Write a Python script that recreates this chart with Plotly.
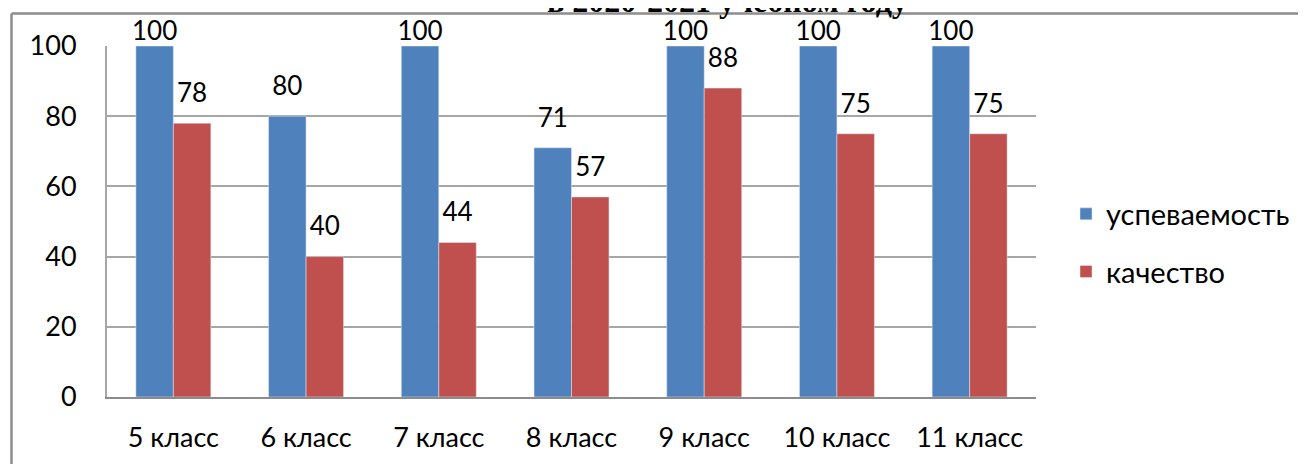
import plotly.graph_objects as go

classes = ["5 класс", "6 класс", "7 класс", "8 класс", "9 класс", "10 класс", "11 класс"]
uspevaemost = [100, 80, 100, 71, 100, 100, 100]
kachestvo = [78, 40, 44, 57, 88, 75, 75]
y_ticks = [0, 20, 40, 60, 80, 100]

font_main = "Lato, Open Sans, sans-serif"
colors = {"u": "#4F81BD", "k": "#C0504D"}

fig = go.Figure()
for key, name, vals in [("u", "успеваемость", uspevaemost), ("k", "качество", kachestvo)]:
    fig.add_trace(
        go.Bar(
            x=classes,
            y=vals,
            name=name,
            legendgroup=key,
            offsetgroup=key,
            alignmentgroup="all",
            marker=dict(color=colors[key]),
            hoverinfo="x+y",
        )
    )
    # value labels, raised above the bar like Excel; labels at the top of the axis stay low
    fig.add_trace(
        go.Scatter(
            x=classes,
            y=vals,
            mode="markers+text",
            text=[str(v) for v in vals],
            textposition="top center",
            textfont=dict(size=26, color="black"),
            marker=dict(size=[0 if v >= 100 else 22 for v in vals], opacity=0),
            offsetgroup=key,
            alignmentgroup="all",
            legendgroup=key,
            showlegend=False,
            cliponaxis=False,
            hoverinfo="skip",
        )
    )

# page offset of the plot div (body margin)
off = 8
plot_l, plot_r, plot_t, plot_b = 107 - off, 1036 - off, 46 - off, 397 - off
pw = plot_r - plot_l
ph = plot_b - plot_t

# outer frame (left and top edges visible)
fx = (11.5 - off - plot_l) / pw
fy = (plot_b - (13.5 - off)) / ph
fig.add_shape(type="line", xref="paper", yref="paper", x0=fx, x1=2, y0=fy, y1=fy,
              line=dict(color="#8c8c8c", width=2.5))
fig.add_shape(type="line", xref="paper", yref="paper", x0=fx, x1=fx, y0=fy, y1=-1,
              line=dict(color="#8c8c8c", width=2.5))

fig.add_annotation(
    text="<b>в 2020-2021 учебном году</b>",
    xref="paper", yref="paper",
    x=(727 - off - plot_l) / pw, y=(plot_b - (1 - off)) / ph,
    xanchor="center", yanchor="middle",
    showarrow=False,
    font=dict(family="Liberation Serif, Times New Roman, serif", size=32, color="black"),
)

fig.update_layout(
    width=1306,
    height=464,
    margin=dict(l=plot_l, r=1306 - plot_r, t=plot_t, b=464 - plot_b),
    paper_bgcolor="white",
    plot_bgcolor="white",
    barmode="group",
    bargap=0.435,
    bargroupgap=0,
    scattermode="group",
    scattergap=0.435,
    font=dict(family=font_main, size=26, color="black"),
    legend=dict(
        x=(1066 - off - plot_l) / pw,
        y=(plot_b - (243 - off)) / ph,
        xanchor="left",
        yanchor="middle",
        font=dict(size=29),
        tracegroupgap=17,
        itemwidth=30,
    ),
    xaxis=dict(
        showline=True,
        linecolor="#8c8c8c",
        linewidth=2,
        ticks="",
        tickfont=dict(size=27),
        ticklabelstandoff=16,
    ),
    yaxis=dict(
        range=[0, 100],
        tickvals=y_ticks,
        showline=True,
        linecolor="#a6a6a6",
        linewidth=2,
        showgrid=True,
        gridcolor="#a6a6a6",
        gridwidth=1.5,
        zeroline=False,
        ticks="",
        tickfont=dict(size=27),
        ticklabelstandoff=23,
    ),
)

fig.write_html("out.html")
